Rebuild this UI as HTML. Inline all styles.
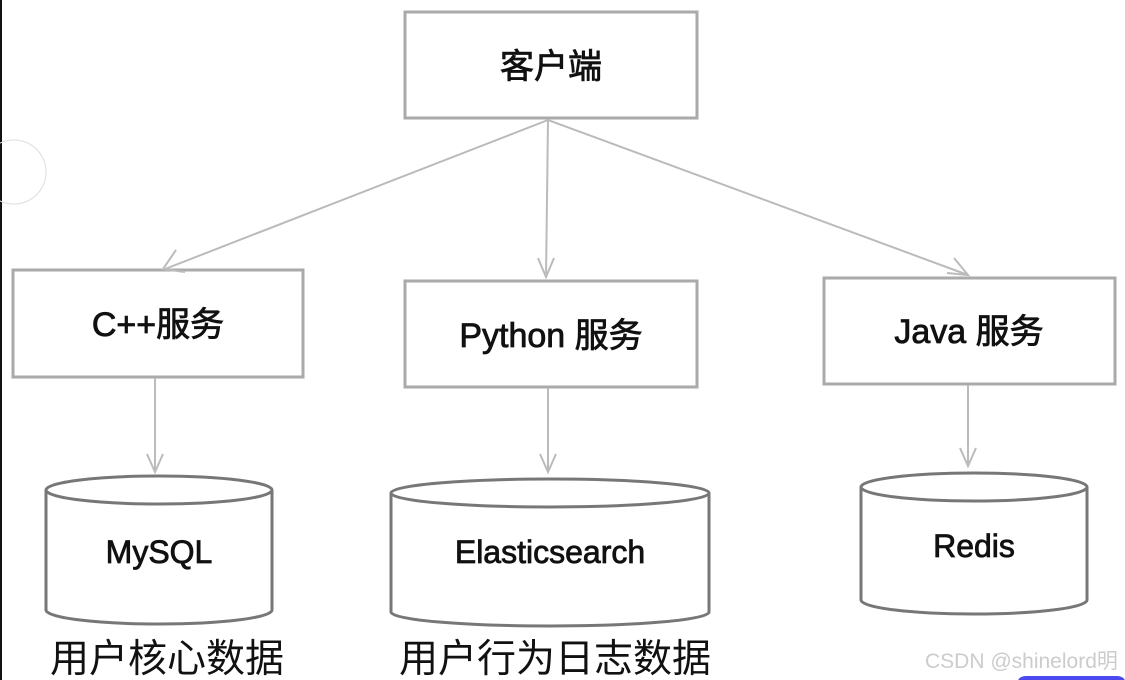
<!DOCTYPE html>
<html><head><meta charset="utf-8"><style>
body{margin:0;background:#fff;}
svg{display:block}
</style></head><body>
<svg width="1125" height="680" xmlns="http://www.w3.org/2000/svg" font-family="'Liberation Sans','Noto Sans CJK SC',sans-serif">
<rect x="0" y="0" width="2" height="680" fill="#111"/>
<circle cx="14" cy="172" r="32" fill="none" stroke="#ddd" stroke-width="1"/>
<g fill="#fff" stroke="#aaa" stroke-width="3">
<rect x="405" y="12" width="292" height="106"/>
<rect x="13" y="270" width="290" height="107"/>
<rect x="405" y="281" width="292" height="106"/>
<rect x="824" y="278" width="291" height="106"/>
</g>
<g stroke="#bbb" stroke-width="2" fill="none">
<line x1="548" y1="120" x2="165" y2="269"/><polyline points="176,250 163,269 185,272"/>
<line x1="548" y1="120" x2="546" y2="277"/><polyline points="538,258 546,277 554,258"/>
<line x1="548" y1="120" x2="968" y2="275"/><polyline points="947,273 968,275 954,258"/>
<line x1="155" y1="378" x2="155" y2="472"/><polyline points="147,454 155,472 163,454"/>
<line x1="548" y1="388" x2="548" y2="472"/><polyline points="540,454 548,472 556,454"/>
<line x1="968" y1="385" x2="968" y2="466"/><polyline points="960,448 968,466 976,448"/>
</g>
<g fill="#fff" stroke="#777" stroke-width="3">
<path d="M46,490 V610 A113,14 0 0 0 272,610 V490"/><ellipse cx="159" cy="490" rx="113" ry="14"/>
<path d="M391,493 V612 A159,14 0 0 0 709,612 V493"/><ellipse cx="550" cy="493" rx="159" ry="14"/>
<path d="M861,487 V600 A113,14 0 0 0 1087,600 V487"/><ellipse cx="974" cy="487" rx="113" ry="14"/>
</g>
<g font-size="34" fill="#111" text-anchor="middle" stroke="#111" stroke-width="0.8">
<text x="551" y="78">客户端</text>
<text x="158" y="336">C++服务</text>
<text x="551" y="347">Python 服务</text>
<text x="969" y="343">Java 服务</text>
<text x="159" y="563" font-size="32">MySQL</text>
<text x="550" y="563" font-size="32">Elasticsearch</text>
<text x="974" y="557" font-size="32">Redis</text>
</g>
<g font-size="39" fill="#111" text-anchor="middle">
<text x="167" y="672">用户核心数据</text>
<text x="555" y="672">用户行为日志数据</text>
</g>
<text x="925" y="668" font-size="21" fill="#ccc">CSDN @shinelord明</text>
<rect x="1018" y="676" width="107" height="10" rx="8" fill="#4a4af0"/>
</svg>
</body></html>
